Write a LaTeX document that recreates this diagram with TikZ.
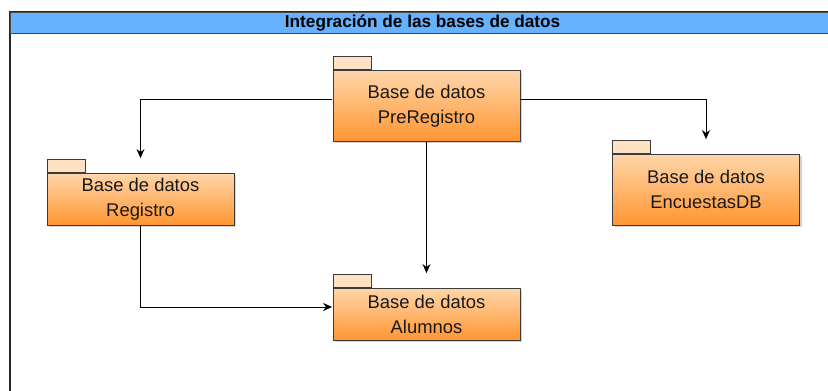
\documentclass[tikz,border=0pt]{standalone}
\usepackage{fontspec}
\setmainfont{Liberation Sans}
\usepackage{xcolor}
\usepackage{tikz}
\usetikzlibrary{arrows.meta,positioning,fit,shadows}

\definecolor{headblue}{RGB}{102,178,255}
\definecolor{pkgtop}{RGB}{255,214,170}
\definecolor{pkgbot}{RGB}{255,150,50}
\definecolor{pkgline}{RGB}{60,60,60}

\begin{document}
\begin{tikzpicture}[x=0.5pt, y=-0.5pt,
			pkg/.style={
					rectangle,
					draw=pkgline,
					line width=0.5pt,
					top color=pkgtop,
					bottom color=pkgbot,
					minimum width=93.5pt,
					align=center,
					inner sep=0pt,
					font=\fontsize{9.2}{12.5}\selectfont,
					text=black!90,
					drop shadow={shadow xshift=1.2pt, shadow yshift=-1.2pt, opacity=0.35}
				},
			pkgtab/.style={
					rectangle,
					draw=pkgline,
					line width=0.5pt,
					fill=pkgtop!70!white,
					minimum width=19pt,
					minimum height=6.5pt,
					inner sep=0pt,
					anchor=south west
				},
			outline/.style={inner sep=0pt},
			line/.style={draw, line width=0.5pt, -{Stealth[length=4.5pt,width=4pt]}}
		]
		\useasboundingbox (0,0) rectangle (828,390);
		% Frame and title bar
		\draw[line width=0.6pt, black!85] (10,392) -- (10,12) -- (842,12);
		\node [draw=black!70, line width=0.6pt, fill=headblue, minimum width=415pt, minimum height=10.5pt,
			inner sep=0pt, anchor=north west, font=\fontsize{8.6}{10}\selectfont\bfseries] (title) at (10,12)
			{\hspace{-3pt}Integración de las bases de datos\hspace{-3pt}};
		% Place nodes
		\node [pkg, minimum height=35pt] (pre) at (426.5,106) {Base de datos\\PreRegistro};
		\node [pkgtab] (pretab) at (pre.north west) {};
		\node [pkg, minimum height=26pt] (reg) at (140.5,199) {Base de datos\\Registro};
		\node [pkgtab] (regtab) at (reg.north west) {};
		\node [pkg, minimum height=35.5pt] (enc) at (706,189.5) {Base de datos\\EncuestasDB};
		\node [pkgtab] (enctab) at (enc.north west) {};
		\node [pkg, minimum height=26pt] (alu) at (426.5,314) {Base de datos\\Alumnos};
		\node [pkgtab] (alutab) at (alu.north west) {};
		% Whole package outlines
		\node [outline, fit=(pre)(pretab)] (preall) {};
		\node [outline, fit=(reg)(regtab)] (regall) {};
		\node [outline, fit=(enc)(enctab)] (encall) {};
		\node [outline, fit=(alu)(alutab)] (aluall) {};
		% Draw edges
		\path [line] (preall.west) -| (regall.north);
		\path [line] (preall.east) -| (encall.north);
		\path [line] (pre.south) -- (aluall.north);
		\path [line] (reg.south) |- (aluall.west);
	\end{tikzpicture}
\end{document}
